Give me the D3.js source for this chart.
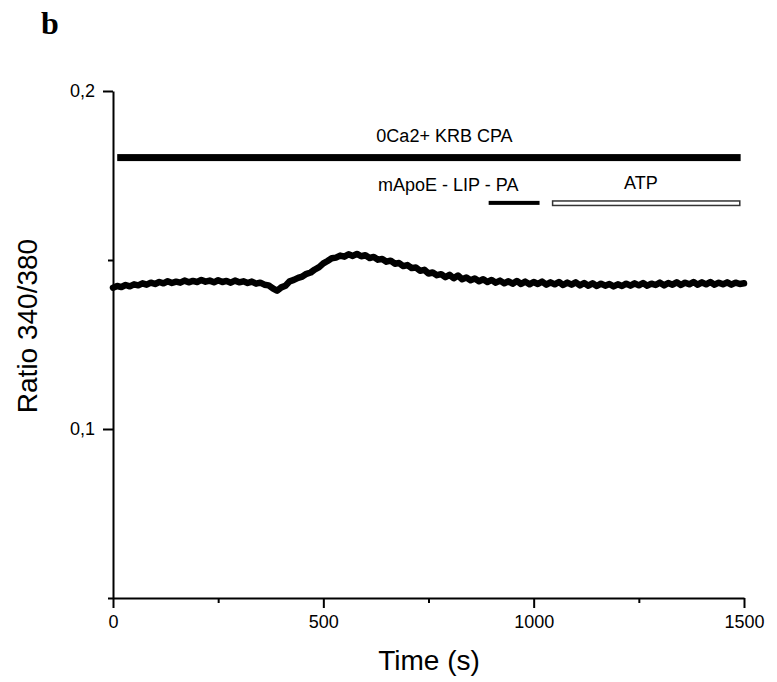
<!DOCTYPE html>
<html>
<head>
<meta charset="utf-8">
<script src="https://cdn.jsdelivr.net/npm/d3@7"></script>
<style>
  html, body { margin: 0; padding: 0; background: #fff; }
  svg { display: block; }
  text { font-family: "Liberation Sans", Arial, sans-serif; fill: #000; }
</style>
</head>
<body>
<svg id="chart" width="777" height="682"></svg>
<script>
// ---- data ----
const timeStep = 10; // seconds between samples
const ratioValues = [
  0.1418, 0.1423, 0.1420, 0.1426, 0.1422, 0.1428, 0.1425, 0.1431, 0.1427, 0.1433,
  0.1429, 0.1435, 0.1431, 0.1437, 0.1432, 0.1436, 0.1433, 0.1439, 0.1434, 0.1438,
  0.1435, 0.1441, 0.1436, 0.1439, 0.1434, 0.1440, 0.1435, 0.1438, 0.1433, 0.1439,
  0.1434, 0.1437, 0.1432, 0.1436, 0.1430, 0.1433, 0.1427, 0.1425, 0.1416, 0.1409,
  0.1419, 0.1424, 0.1437, 0.1441, 0.1447, 0.1451, 0.1459, 0.1463, 0.1472, 0.1479,
  0.1490, 0.1497, 0.1505, 0.1507, 0.1513, 0.1510, 0.1517, 0.1512, 0.1518, 0.1511,
  0.1514, 0.1506, 0.1509, 0.1501, 0.1503, 0.1495, 0.1498, 0.1489, 0.1491, 0.1482,
  0.1485, 0.1476, 0.1478, 0.1468, 0.1471, 0.1460, 0.1463, 0.1455, 0.1458, 0.1449,
  0.1456, 0.1446, 0.1454, 0.1443, 0.1448, 0.1440, 0.1445, 0.1437, 0.1443, 0.1435,
  0.1441, 0.1433, 0.1439, 0.1431, 0.1437, 0.1430, 0.1438, 0.1429, 0.1436, 0.1428,
  0.1435, 0.1429, 0.1436, 0.1427, 0.1434, 0.1428, 0.1435, 0.1426, 0.1433, 0.1427,
  0.1434, 0.1425, 0.1432, 0.1424, 0.1431, 0.1423, 0.1430, 0.1424, 0.1429, 0.1422,
  0.1428, 0.1423, 0.1430, 0.1424, 0.1431, 0.1425, 0.1432, 0.1424, 0.1430, 0.1426,
  0.1433, 0.1425, 0.1432, 0.1427, 0.1434, 0.1426, 0.1433, 0.1428, 0.1435, 0.1427,
  0.1434, 0.1428, 0.1435, 0.1427, 0.1433, 0.1428, 0.1434, 0.1427, 0.1433, 0.1429,
  0.1431
];
const xMajorTicks = [0, 500, 1000, 1500];
const xMinorTicks = [250, 750, 1250];
const yMajorTicks = [0.1, 0.2];
const yMinorTicks = [0.05, 0.15];

// treatment bars: [start, end] in seconds
const treatmentNames = ["0Ca2+ KRB CPA", "mApoE - LIP - PA", "ATP"];
const treatmentStarts = [10, 893, 1045];
const treatmentEnds = [1492, 1014, 1490];
const treatmentLevels = [0.1803, 0.1669, 0.1668];   // vertical row (ratio units)
const labelTimes = [788, 797, 1255];
const labelLevels = [0.1849, 0.1704, 0.1709];

// ---- layout ----
const svg = d3.select("#chart");
const x = d3.scaleLinear().domain([0, 1500]).range([113, 744]);
const y = d3.scaleLinear().domain([0.05, 0.2]).range([598, 91]);
const fmt = d => d3.format(".1f")(d).replace(".", ",");

// panel letter
svg.append("text").attr("x", 41).attr("y", 34)
  .style("font-family", "'Liberation Serif', 'Times New Roman', serif")
  .style("font-weight", "bold").style("font-size", "32px").text("b");

// axes
function styleAxis(g) {
  g.selectAll("path, line").attr("stroke", "#000").attr("stroke-width", 2);
  g.selectAll("text").style("font-size", "18px").style("font-family", "'Liberation Sans', Arial, sans-serif");
}
const gx = svg.append("g").attr("transform", "translate(0,598)")
  .call(d3.axisBottom(x).tickValues(xMajorTicks).tickSize(10).tickSizeOuter(0).tickPadding(7).tickFormat(d3.format("d")));
styleAxis(gx);
const gxm = svg.append("g").attr("transform", "translate(0,598)")
  .call(d3.axisBottom(x).tickValues(xMinorTicks).tickSize(5).tickSizeOuter(0).tickFormat(""));
styleAxis(gxm); gxm.select(".domain").remove();

const gy = svg.append("g").attr("transform", "translate(113,0)")
  .call(d3.axisLeft(y).tickValues(yMajorTicks).tickSize(10).tickSizeOuter(0).tickPadding(8).tickFormat(fmt));
styleAxis(gy);
const gym = svg.append("g").attr("transform", "translate(113,0)")
  .call(d3.axisLeft(y).tickValues(yMinorTicks).tickSize(5).tickSizeOuter(0).tickFormat(""));
styleAxis(gym); gym.select(".domain").remove();

// axis titles
svg.append("text").attr("x", 429).attr("y", 670).attr("text-anchor", "middle")
  .style("font-size", "28px").text("Time (s)");
svg.append("text").attr("transform", "translate(37,326) rotate(-90)").attr("text-anchor", "middle")
  .style("font-size", "28px").text("Ratio 340/380");

// treatment bars
const barStyles = [
  {h: 7, fill: "#000", stroke: "none"},
  {h: 4, fill: "#000", stroke: "none"},
  {h: 4.5, fill: "#fff", stroke: "#333"}
];
treatmentNames.forEach((name, i) => {
  const s = barStyles[i];
  svg.append("rect")
    .attr("x", x(treatmentStarts[i]))
    .attr("y", y(treatmentLevels[i]) - s.h / 2)
    .attr("width", x(treatmentEnds[i]) - x(treatmentStarts[i]))
    .attr("height", s.h)
    .attr("fill", s.fill)
    .attr("stroke", s.stroke)
    .attr("stroke-width", s.stroke === "none" ? 0 : 1.5);
  svg.append("text")
    .attr("x", x(labelTimes[i])).attr("y", y(labelLevels[i]))
    .attr("text-anchor", "middle").style("font-size", "18px").text(name);
});

// trace
const line = d3.line().x((d, i) => x(i * timeStep)).y(d => y(d)).curve(d3.curveLinear);
svg.append("path").datum(ratioValues)
  .attr("d", line).attr("fill", "none").attr("stroke", "#000")
  .attr("stroke-width", 6.5).attr("stroke-linejoin", "round").attr("stroke-linecap", "round");
</script>
</body>
</html>
